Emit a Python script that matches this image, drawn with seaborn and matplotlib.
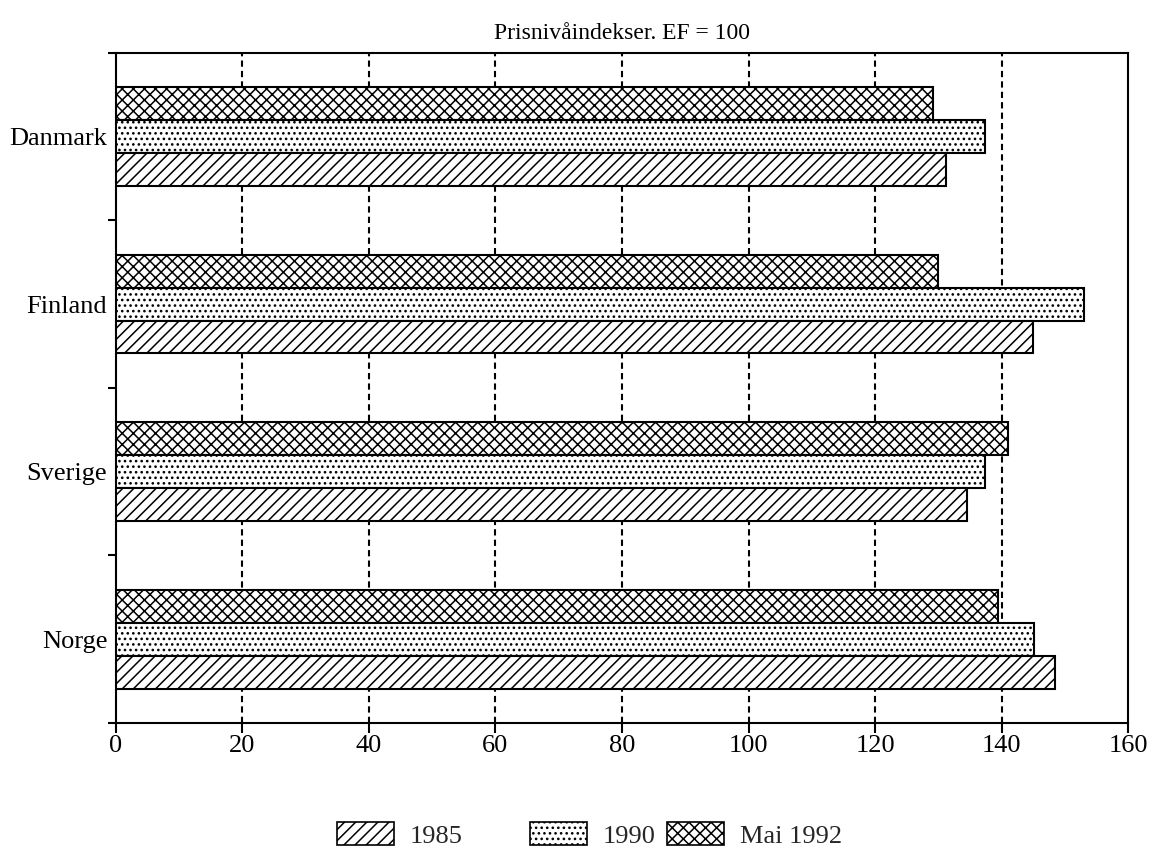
import matplotlib
matplotlib.use("Agg")
import matplotlib.pyplot as plt
from matplotlib.patches import Patch
from matplotlib.ticker import FixedLocator
import seaborn as sns
import pandas as pd

# Price level indices, EF = 100
countries = ["Danmark", "Finland", "Sverige", "Norge"]
years = ["Mai 1992", "1990", "1985"]          # drawn top to bottom within each country
values_1985 = [131.2, 145.0, 134.5, 148.4]
values_1990 = [137.4, 153.0, 137.4, 145.1]
values_1992 = [129.2, 130.0, 141.0, 139.4]
x_ticks = [0, 20, 40, 60, 80, 100, 120, 140, 160]
title = "Prisnivåindekser. EF = 100"
legend_labels = ["1985", "1990", "Mai 1992"]

series = {"1985": values_1985, "1990": values_1990, "Mai 1992": values_1992}
df = pd.DataFrame(
    [(c, y, series[y][i]) for y in years for i, c in enumerate(countries)],
    columns=["land", "periode", "indeks"],
)

hatches = {"1985": "///", "1990": "...", "Mai 1992": "xxx"}

sns.set_theme(style="white")
plt.rcParams["font.family"] = ["Liberation Serif", "DejaVu Serif"]
plt.rcParams["hatch.color"] = "black"
plt.rcParams["hatch.linewidth"] = 1.1

fig = plt.figure(figsize=(11.51, 8.47), dpi=100)
ax = fig.add_axes([0.1005, 0.1464, 0.9803 - 0.1005, 0.9378 - 0.1464])

sns.barplot(
    data=df, y="land", x="indeks", hue="periode", hue_order=years,
    order=countries, orient="h", palette={y: "white" for y in years},
    width=0.59, edgecolor="black", linewidth=1.5, legend=False, ax=ax,
    errorbar=None, zorder=3,
)

for cont, y in zip(ax.containers, years):
    for bar in cont:
        bar.set_hatch(hatches[y])
        bar.set_edgecolor("black")

ax.set_xlim(0, 160)
ax.set_ylim(len(countries) - 0.5, -0.5)
ax.set_xticks(x_ticks)
ax.set_xticklabels([str(t) for t in x_ticks])
ax.set_xlabel("")
ax.set_ylabel("")

# dashed vertical grid at inner ticks
for t in x_ticks[1:-1]:
    ax.axvline(t, color="black", linestyle=(0, (3, 2)), linewidth=1.5, zorder=1)

for s in ax.spines.values():
    s.set_color("black")
    s.set_linewidth(1.5)
    s.set_visible(True)

ax.tick_params(axis="x", which="major", direction="out", length=7, width=1.5,
               color="black", labelsize=19, pad=2, bottom=True)
ax.tick_params(axis="y", which="major", length=0, labelsize=19, pad=6, left=True)
ax.yaxis.set_minor_locator(FixedLocator([-0.5, 0.5, 1.5, 2.5, 3.5]))
ax.tick_params(axis="y", which="minor", direction="out", length=6, width=1.5,
               color="black", left=True)
for lbl in ax.get_xticklabels() + ax.get_yticklabels():
    lbl.set_color("black")

ax.set_title(title, fontsize=17, pad=10, color="black")

# one legend entry per slot, placed individually
legend_x = [337 / 1151, 530 / 1151, 667 / 1151]
for lab, lx in zip(legend_labels, legend_x):
    h = Patch(facecolor="white", edgecolor="black", hatch=hatches[lab], linewidth=1.2)
    fig.legend([h], [lab], loc="center left", bbox_to_anchor=(lx, 1 - 835 / 847),
               frameon=False, fontsize=19, handlelength=2.15, handleheight=0.95,
               handletextpad=0.6, borderpad=0, borderaxespad=0)

fig.savefig("out.png", dpi=100)
